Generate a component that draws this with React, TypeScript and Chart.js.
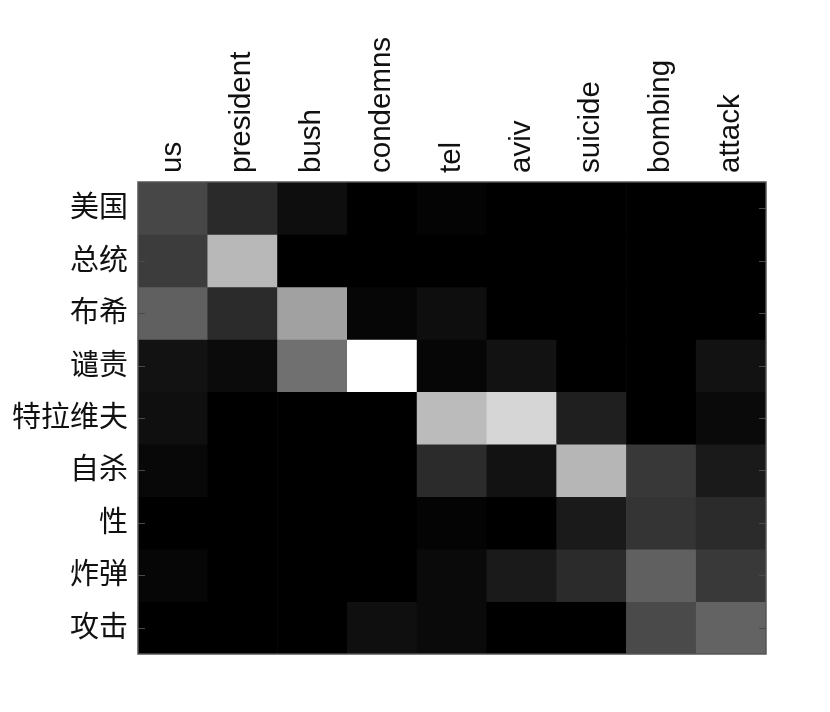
import React, { useEffect, useRef } from "react";
import { Chart, registerables } from "chart.js";

Chart.register(...registerables);

const sourceWords = ["us", "president", "bush", "condemns", "tel", "aviv", "suicide", "bombing", "attack"];
const targetWords = ["美国", "总统", "布希", "谴责", "特拉维夫", "自杀", "性", "炸弹", "攻击"];

// attention weights, one array per target word (row), one value per source word (column)
const row美国 = [0.28, 0.165, 0.055, 0, 0.015, 0, 0, 0, 0];
const row总统 = [0.235, 0.72, 0, 0, 0, 0, 0, 0, 0];
const row布希 = [0.375, 0.17, 0.63, 0.025, 0.055, 0, 0, 0, 0];
const row谴责 = [0.07, 0.045, 0.44, 1.0, 0.025, 0.07, 0, 0, 0.07];
const row特拉维夫 = [0.06, 0, 0, 0, 0.735, 0.84, 0.12, 0, 0.04];
const row自杀 = [0.03, 0, 0, 0, 0.17, 0.07, 0.715, 0.22, 0.1];
const row性 = [0, 0, 0, 0, 0.015, 0, 0.1, 0.205, 0.17];
const row炸弹 = [0.025, 0, 0, 0, 0.04, 0.1, 0.17, 0.375, 0.225];
const row攻击 = [0, 0, 0, 0.06, 0.04, 0, 0, 0.29, 0.39];

const weights = [row美国, row总统, row布希, row谴责, row特拉维夫, row自杀, row性, row炸弹, row攻击];

const gray = (v: number) => {
  const g = Math.round(Math.max(0, Math.min(1, v)) * 255);
  return `rgb(${g},${g},${g})`;
};

const framePlugin = {
  id: "frameAndTicks",
  afterDatasetsDraw(chart: any) {
    const { ctx, chartArea } = chart;
    const y = chart.scales.y;
    ctx.save();
    ctx.strokeStyle = "#4a4a4a";
    ctx.lineWidth = 1;
    y.ticks.forEach((t: any) => {
      const py = Math.round(y.getPixelForValue(t.value)) + 0.5;
      ctx.beginPath();
      ctx.moveTo(chartArea.left, py);
      ctx.lineTo(chartArea.left + 7, py);
      ctx.moveTo(chartArea.right - 7, py);
      ctx.lineTo(chartArea.right, py);
      ctx.stroke();
    });
    ctx.strokeStyle = "#555";
    ctx.lineWidth = 1.5;
    ctx.strokeRect(chartArea.left, chartArea.top, chartArea.right - chartArea.left, chartArea.bottom - chartArea.top);
    ctx.restore();
  },
};

export default function App() {
  const ref = useRef<HTMLCanvasElement>(null);

  useEffect(() => {
    if (!ref.current) return;
    const datasets = weights.map((row, r) => ({
      label: targetWords[r],
      data: sourceWords.map(() => [r, r + 1]),
      backgroundColor: row.map(gray),
      borderWidth: 0,
      grouped: false,
      barPercentage: 1,
      categoryPercentage: 1,
    }));
    const chart = new Chart(ref.current, {
      type: "bar",
      data: { labels: sourceWords, datasets: datasets as any },
      options: {
        animation: false,
        responsive: false,
        maintainAspectRatio: false,
        layout: { padding: { left: 0, right: 64, top: 0, bottom: 58 } },
        plugins: { legend: { display: false }, tooltip: { enabled: false } },
        scales: {
          x: {
            type: "category",
            position: "top",
            offset: true,
            grid: { display: false, drawTicks: false },
            border: { display: false },
            ticks: {
              minRotation: 90,
              maxRotation: 90,
              autoSkip: false,
              padding: 9,
              labelOffset: 35,
              color: "#111",
              font: { family: "'Liberation Sans', Arial, sans-serif", size: 29.5 },
            },
            afterFit: (s: any) => {
              s.height = 182;
            },
          },
          y: {
            type: "linear",
            min: 0,
            max: 9,
            reverse: true,
            grid: { display: false, drawTicks: false },
            border: { display: false },
            afterBuildTicks: (s: any) => {
              s.ticks = targetWords.map((_, i) => ({ value: i + 0.5 }));
            },
            ticks: {
              autoSkip: false,
              padding: 10,
              labelOffset: -2,
              color: "#111",
              font: { family: "'Noto Sans CJK SC', sans-serif", size: 29 },
              callback: (_v: any, i: number) => targetWords[i],
            },
            afterFit: (s: any) => {
              s.width = 138;
            },
          },
        },
      },
      plugins: [framePlugin],
    });
    return () => chart.destroy();
  }, []);

  return (
    <div style={{ position: "fixed", left: 0, top: 0, width: 830, height: 712, background: "#fff" }}>
      <canvas ref={ref} width={830} height={712} />
    </div>
  );
}
